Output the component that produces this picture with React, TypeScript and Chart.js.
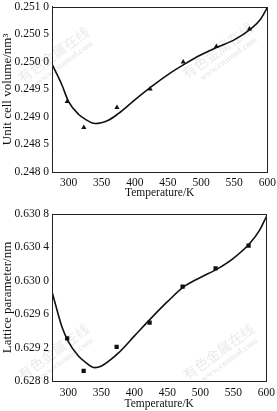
import React, { useEffect, useRef } from "react";
import { Chart, registerables } from "chart.js";

Chart.register(...registerables);

const xTicks = [300, 350, 400, 450, 500, 550, 600];

// Top panel: unit cell volume
const volTemps = [298, 323, 373, 423, 473, 523, 573];
const volValues = [0.24928, 0.24881, 0.24917, 0.24951, 0.25, 0.25028, 0.2506];
const volCurveT = [275, 290, 300, 315, 325, 340, 360, 375, 400, 425, 450, 475, 500, 525, 550, 575, 590, 600];
const volCurveV = [0.24996, 0.24958, 0.24928, 0.24905, 0.24896, 0.24888, 0.24894, 0.24906, 0.24931, 0.24955, 0.24977, 0.24996, 0.25013, 0.25027, 0.2504, 0.2506, 0.25078, 0.25099];
const volTicks = [0.248, 0.2485, 0.249, 0.2495, 0.25, 0.2505, 0.251];
const volTickLabels = ["0.248 0", "0.248 5", "0.249 0", "0.249 5", "0.250 0", "0.250 5", "0.251 0"];

// Bottom panel: lattice parameter
const latTemps = [298, 323, 373, 423, 473, 523, 573];
const latValues = [0.62931, 0.62892, 0.62921, 0.6295, 0.62993, 0.63015, 0.63042];
const latCurveT = [275, 290, 300, 315, 325, 340, 350, 375, 400, 425, 450, 475, 500, 525, 550, 575, 590, 600];
const latCurveV = [0.62987, 0.62945, 0.62927, 0.6291, 0.62903, 0.62896, 0.62898, 0.62913, 0.62934, 0.62955, 0.62975, 0.62993, 0.63004, 0.63014, 0.63027, 0.63045, 0.63061, 0.63077];
const latTicks = [0.6288, 0.6292, 0.6296, 0.63, 0.6304, 0.6308];
const latTickLabels = ["0.628 8", "0.629 2", "0.629 6", "0.630 0", "0.630 4", "0.630 8"];

const watermarkCN = "有色金属在线";
const watermarkURL = "www.cnnmol.com";

const FONT = "'Liberation Serif', 'DejaVu Serif', serif";

function makeConfig(opts: {
  temps: number[];
  values: number[];
  curveT: number[];
  curveV: number[];
  yTicks: number[];
  yLabels: string[];
  yTitle: string;
  marker: string;
  top: number;
  bottom: number;
  xHeight: number;
  right: number;
  tickPad: number;
  marks: { x: number; y: number }[];
}) {
  const boxPlugin = {
    id: "box",
    beforeDatasetsDraw(chart: any) {
      const { ctx } = chart;
      ctx.save();
      for (const m of opts.marks) {
        ctx.save();
        ctx.translate(m.x, m.y);
        ctx.rotate(-0.63);
        ctx.fillStyle = "rgba(0,0,0,0.09)";
        ctx.textAlign = "center";
        ctx.textBaseline = "middle";
        ctx.font = "14px 'Noto Sans CJK SC'";
        ctx.fillText(watermarkCN, 0, -4);
        ctx.font = "bold 9px " + FONT;
        ctx.fillText(watermarkURL, 4, 9);
        ctx.restore();
      }
      ctx.restore();
    },
    afterDraw(chart: any) {
      const { ctx, chartArea } = chart;
      ctx.save();
      ctx.strokeStyle = "#222";
      ctx.lineWidth = 1;
      ctx.strokeRect(
        Math.round(chartArea.left) + 0.5,
        Math.round(chartArea.top) + 0.5,
        Math.round(chartArea.right - chartArea.left),
        Math.round(chartArea.bottom - chartArea.top)
      );
      ctx.restore();
    },
  };
  return {
    type: "scatter" as const,
    data: {
      datasets: [
        {
          type: "line" as const,
          data: opts.curveT.map((t, i) => ({ x: t, y: opts.curveV[i] })),
          borderColor: "#111",
          borderWidth: 1.6,
          pointRadius: 0,
          cubicInterpolationMode: "monotone" as const,
          fill: false,
        },
        {
          data: opts.temps.map((t, i) => ({ x: t, y: opts.values[i] })),
          backgroundColor: "#111",
          borderColor: "#111",
          pointStyle: opts.marker,
          pointRadius: 3,
          borderWidth: 0,
        },
      ],
    },
    options: {
      animation: false,
      responsive: false,
      maintainAspectRatio: false,
      layout: { padding: { top: opts.top, right: opts.right, left: 0, bottom: opts.bottom } },
      plugins: { legend: { display: false }, tooltip: { enabled: false } },
      scales: {
        x: {
          type: "linear",
          min: 275,
          max: 600,
          afterBuildTicks: (axis: any) => {
            axis.ticks = xTicks.map((v) => ({ value: v }));
          },
          afterFit: (axis: any) => {
            axis.height = opts.xHeight;
          },
          grid: { display: false, drawTicks: true, tickLength: 3, color: "#222" },
          border: { display: true, color: "#222", width: 1 },
          ticks: {
            color: "#111",
            font: { family: FONT, size: 11.5 },
            padding: opts.tickPad,
            maxRotation: 0,
            autoSkip: false,
          },
          title: {
            display: true,
            text: "Temperature/K",
            color: "#111",
            font: { family: FONT, size: 11.5 },
            padding: { top: 0, bottom: 0 },
          },
        },
        y: {
          type: "linear",
          min: opts.yTicks[0],
          max: opts.yTicks[opts.yTicks.length - 1],
          afterBuildTicks: (axis: any) => {
            axis.ticks = opts.yTicks.map((v) => ({ value: v }));
          },
          afterFit: (axis: any) => {
            axis.width = 52;
          },
          grid: { display: false, drawTicks: true, tickLength: 3, color: "#222" },
          border: { display: true, color: "#222", width: 1 },
          ticks: {
            color: "#111",
            font: { family: FONT, size: 11.5 },
            padding: 0,
            autoSkip: false,
            callback: (v: any) => {
              const idx = opts.yTicks.findIndex((t) => Math.abs(t - v) < 1e-9);
              return idx >= 0 ? opts.yLabels[idx] : "";
            },
          },
          title: {
            display: true,
            text: opts.yTitle,
            color: "#111",
            font: { family: FONT, size: 13 },
            padding: { top: 0, bottom: 0 },
          },
        },
      },
    },
    plugins: [boxPlugin],
  };
}

function Panel(props: { config: any; height: number; top: number }) {
  const ref = useRef<HTMLCanvasElement>(null);
  useEffect(() => {
    const chart = new Chart(ref.current!, props.config);
    return () => chart.destroy();
  }, []);
  return (
    <div style={{ position: "absolute", left: 0, top: props.top, width: 277, height: props.height }}>
      <canvas ref={ref} width={277} height={props.height} style={{ width: 277, height: props.height }} />
    </div>
  );
}

export default function App() {
  const topCfg = makeConfig({
    temps: volTemps,
    values: volValues,
    curveT: volCurveT,
    curveV: volCurveV,
    yTicks: volTicks,
    yLabels: volTickLabels,
    yTitle: "Unit cell volume/nm³",
    marker: "triangle",
    top: 2,
    bottom: 5,
    xHeight: 28,
    right: 7,
    tickPad: 1,
    marks: [
      { x: 56, y: 58 },
      { x: 220, y: 54 },
    ],
  });
  const botCfg = makeConfig({
    temps: latTemps,
    values: latValues,
    curveT: latCurveT,
    curveV: latCurveV,
    yTicks: latTicks,
    yLabels: latTickLabels,
    yTitle: "Lattice parameter/nm",
    marker: "rect",
    top: 9,
    bottom: 0,
    xHeight: 30,
    right: 7,
    tickPad: 2,
    marks: [
      { x: 56, y: 150 },
      { x: 221, y: 150 },
    ],
  });
  return (
    <div style={{ position: "fixed", left: 0, top: 0, width: 277, height: 411, background: "#fff" }}>
      <Panel config={topCfg} height={205} top={0} />
      <Panel config={botCfg} height={206} top={205} />
    </div>
  );
}
